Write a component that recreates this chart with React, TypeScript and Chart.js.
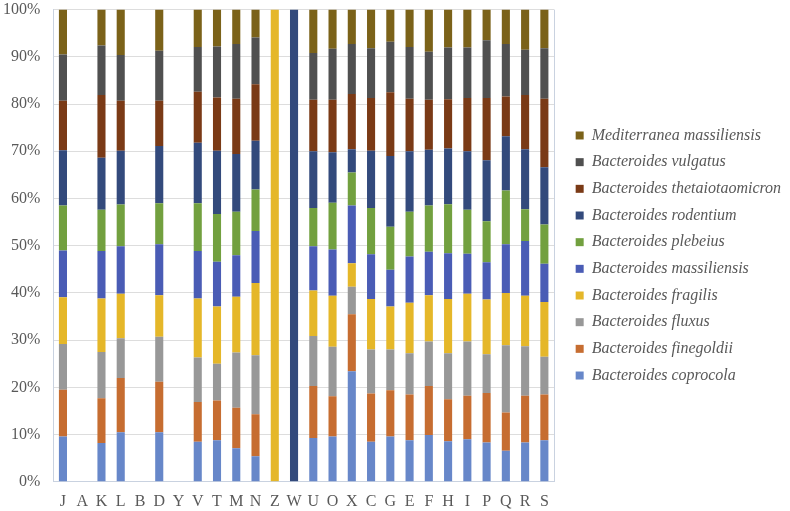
import React, { useEffect, useRef } from "react";
import { Chart, registerables } from "chart.js";

Chart.register(...registerables);

const categories = ["J", "A", "K", "L", "B", "D", "Y", "V", "T", "M", "N", "Z", "W", "U", "O", "X", "C", "G", "E", "F", "H", "I", "P", "Q", "R", "S"];

const seriesNames = [
  "Bacteroides coprocola",
  "Bacteroides finegoldii",
  "Bacteroides fluxus",
  "Bacteroides fragilis",
  "Bacteroides massiliensis",
  "Bacteroides plebeius",
  "Bacteroides rodentium",
  "Bacteroides thetaiotaomicron",
  "Bacteroides vulgatus",
  "Mediterranea massiliensis",
];

//                 J    A  K     L    B  D     Y  V    T    M    N    Z    W    U    O    X     C    G    E    F    H    I    P    Q    R    S
const coprocola = [9.6, 0, 8.2, 10.5, 0, 10.5, 0, 8.5, 8.8, 7.1, 5.4, 0, 0, 9.3, 9.6, 23.4, 8.5, 9.6, 8.8, 9.9, 8.6, 9.0, 8.3, 6.6, 8.3, 8.8];
const finegoldii = [9.9, 0, 9.5, 11.5, 0, 10.7, 0, 8.4, 8.4, 8.6, 8.9, 0, 0, 11.0, 8.5, 12.1, 10.2, 9.8, 9.7, 10.4, 8.9, 9.2, 10.5, 8.1, 9.9, 9.7];
const fluxus = [9.7, 0, 9.8, 8.4, 0, 9.5, 0, 9.4, 7.8, 11.7, 12.5, 0, 0, 10.6, 10.5, 5.8, 9.3, 8.6, 8.7, 9.4, 9.7, 11.5, 8.2, 14.2, 10.5, 8.0];
const fragilis = [9.9, 0, 11.3, 9.4, 0, 8.8, 0, 12.5, 12.1, 11.8, 15.3, 100, 0, 9.6, 10.8, 5.0, 10.7, 9.1, 10.7, 9.8, 11.5, 10.1, 11.6, 11.1, 10.7, 11.6];
const massiliensis = [9.9, 0, 10.1, 10.1, 0, 10.8, 0, 10.1, 9.5, 8.8, 11.0, 0, 0, 9.4, 9.8, 12.2, 9.5, 7.8, 9.8, 9.2, 9.7, 8.5, 7.9, 10.3, 11.6, 8.1];
const plebeius = [9.5, 0, 8.7, 8.8, 0, 8.7, 0, 10.1, 10.1, 9.2, 8.8, 0, 0, 8.1, 9.9, 7.0, 9.8, 9.1, 9.5, 9.8, 10.4, 9.3, 8.7, 11.4, 6.7, 8.3];
const rodentium = [11.7, 0, 11.0, 11.4, 0, 12.1, 0, 12.8, 13.4, 12.2, 10.3, 0, 100, 12.0, 10.7, 4.9, 12.1, 15.0, 12.8, 11.8, 11.8, 12.4, 12.9, 11.5, 12.7, 12.1];
const thetaiotaomicron = [10.5, 0, 13.3, 10.6, 0, 9.6, 0, 10.8, 11.3, 11.7, 12.0, 0, 0, 10.9, 11.1, 11.7, 11.2, 13.5, 11.1, 10.6, 10.4, 11.3, 13.2, 8.4, 11.5, 14.5];
const vulgatus = [9.8, 0, 10.5, 9.7, 0, 10.6, 0, 9.5, 10.8, 11.6, 9.9, 0, 0, 9.9, 10.8, 10.6, 10.5, 10.7, 11.0, 10.2, 11.0, 10.7, 12.2, 11.1, 9.6, 10.7];
const mediterranea = [9.5, 0, 7.6, 9.6, 0, 8.7, 0, 7.9, 7.8, 7.3, 5.9, 0, 0, 9.2, 8.3, 7.3, 8.2, 6.8, 7.9, 8.9, 8.0, 8.0, 6.5, 7.3, 8.5, 8.2];

const seriesValues = [coprocola, finegoldii, fluxus, fragilis, massiliensis, plebeius, rodentium, thetaiotaomicron, vulgatus, mediterranea];

const seriesColors = ["#6787C9", "#C66D31", "#989898", "#E5B729", "#4A5CB5", "#72A03F", "#334A7C", "#7A3A16", "#505050", "#7B6219"];

const yTicks = [0, 10, 20, 30, 40, 50, 60, 70, 80, 90, 100];

const FONT = "'Liberation Serif', 'Times New Roman', serif";
const LEGEND_WIDTH = 236;
const LEGEND_SHIFT = 11;
const AXIS_COLOR = "#C9D2E0";

export default function App() {
  const ref = useRef<HTMLCanvasElement>(null);

  useEffect(() => {
    if (!ref.current) return;
    const layoutPlugin = {
      id: "legendLayout",
      beforeLayout(chart: any) {
        const lg = chart.legend;
        if (lg && !lg._patchedFit) {
          const orig = lg.fit.bind(lg);
          lg.fit = function () {
            orig();
            this.width = LEGEND_WIDTH;
          };
          lg._patchedFit = true;
        }
      },
      afterLayout(chart: any) {
        const lg = chart.legend;
        if (lg) {
          lg.left += LEGEND_SHIFT;
          lg.right += LEGEND_SHIFT;
        }
      },
      beforeDatasetsDraw(chart: any) {
        const { ctx, chartArea } = chart;
        ctx.save();
        ctx.strokeStyle = AXIS_COLOR;
        ctx.lineWidth = 1;
        ctx.beginPath();
        const x = Math.round(chartArea.right) + 0.5;
        ctx.moveTo(x, chartArea.top);
        ctx.lineTo(x, chartArea.bottom);
        ctx.stroke();
        ctx.restore();
      },
    };

    const chart = new Chart(ref.current, {
      type: "bar",
      data: {
        labels: categories,
        datasets: seriesNames.map((name, i) => ({
          label: name,
          data: seriesValues[i],
          backgroundColor: seriesColors[i],
          borderWidth: 0,
          categoryPercentage: 1,
          barPercentage: 0.42,
        })),
      },
      options: {
        animation: false,
        responsive: false,
        maintainAspectRatio: false,
        layout: { padding: { left: 3, right: 0, top: 0, bottom: 0 } },
        plugins: {
          tooltip: { enabled: false },
          legend: {
            position: "right",
            align: "center",
            reverse: true,
            labels: {
              boxWidth: 8,
              boxHeight: 8,
              padding: 10.67,
              color: "#595959",
              font: { family: FONT, size: 16, style: "italic" },
            },
          },
        },
        scales: {
          x: {
            stacked: true,
            grid: { display: true, drawOnChartArea: false, drawTicks: true, tickLength: 10, tickColor: "rgba(0,0,0,0)" },
            border: { display: true, color: AXIS_COLOR, width: 1 },
            ticks: {
              color: "#595959",
              padding: 0,
              font: { family: FONT, size: 16 },
              maxRotation: 0,
              autoSkip: false,
            },
          },
          y: {
            stacked: true,
            min: 0,
            max: 100,
            afterBuildTicks(axis: any) {
              axis.ticks = yTicks.map((v) => ({ value: v }));
            },
            grid: { color: "#DDDDDD", drawTicks: true, tickLength: 13, tickColor: "rgba(0,0,0,0)" },
            border: { display: true, color: AXIS_COLOR, width: 1 },
            ticks: {
              color: "#595959",
              padding: 0,
              font: { family: FONT, size: 16 },
              callback: (v: any) => v + "%",
            },
          },
        },
      },
      plugins: [layoutPlugin],
    });
    return () => chart.destroy();
  }, []);

  return (
    <div style={{ position: "absolute", left: 0, top: 0, width: 790, height: 511 }}>
      <canvas ref={ref} width={790} height={511} style={{ display: "block" }} />
    </div>
  );
}
